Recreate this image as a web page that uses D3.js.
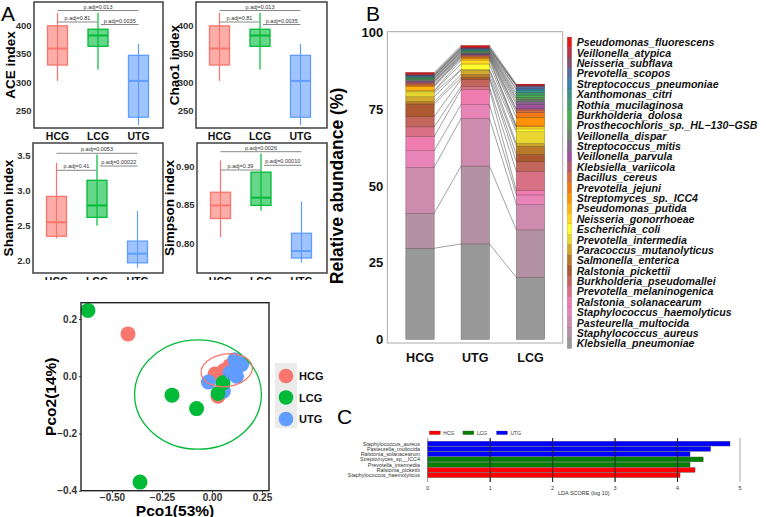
<!DOCTYPE html>
<html><head><meta charset="utf-8">
<script src="https://cdn.jsdelivr.net/npm/d3@7"></script>
<style>body{margin:0;background:#fff;} svg{font-family:"Liberation Sans",Arial,sans-serif;display:block}</style>
</head><body><svg id="c" width="766" height="517"></svg>
<script>
// ---------------- DATA ----------------
const groups = ["HCG", "LCG", "UTG"];
// box stats: [min, q1, median, q3, max]
const aceStats = { HCG: [302, 330, 359, 399, 422], LCG: [322, 363, 382, 393, 422], UTG: [224, 238, 302, 347, 367] };
const chao1Stats = { HCG: [302, 330, 359, 399, 422], LCG: [322, 363, 382, 393, 422], UTG: [224, 238, 302, 347, 367] };
const shannonStats = { HCG: [2.32, 2.35, 2.55, 2.92, 3.40], LCG: [2.50, 2.62, 2.79, 3.15, 3.52], UTG: [1.90, 1.97, 2.10, 2.28, 2.71] };
const simpsonStats = { HCG: [0.808, 0.832, 0.849, 0.866, 0.907], LCG: [0.842, 0.849, 0.859, 0.892, 0.916], UTG: [0.775, 0.781, 0.790, 0.813, 0.854] };
const aceTicks = [250, 300, 350, 400];
const shannonTicks = [2.0, 2.5, 3.0, 3.5];
const simpsonTicks = [0.80, 0.85, 0.90];
const acePairs = [["HCG", "UTG", "p.adj=0.013"], ["HCG", "LCG", "p.adj=0.81"], ["LCG", "UTG", "p.adj=0.0035"]];
const chao1Pairs = [["HCG", "UTG", "p.adj=0.013"], ["HCG", "LCG", "p.adj=0.81"], ["LCG", "UTG", "p.adj=0.0035"]];
const shannonPairs = [["HCG", "UTG", "p.adj=0.0053"], ["HCG", "LCG", "p.adj=0.41"], ["LCG", "UTG", "p.adj=0.00022"]];
const simpsonPairs = [["HCG", "UTG", "p.adj=0.0026"], ["HCG", "LCG", "p.adj=0.39"], ["LCG", "UTG", "p.adj=0.00010"]];

// PCoA points [pco1, pco2]
const pcoaHCG = [[-0.42, 0.148], [0.015, 0.008], [0.09, 0.037], [0.03, -0.07], [0.06, 0.02]];
const pcoaUTG = [[-0.018, -0.02], [0.115, 0.058], [0.148, 0.041], [0.123, 0.0], [0.057, -0.052], [0.09, 0.012]];
const pcoaLCG = [[-0.62, 0.23], [-0.20, -0.066], [-0.077, -0.113], [-0.36, -0.37], [0.03, -0.06], [0.055, -0.023]];
// ellipses: [cx, cy, rx, ry, angleDeg]
const ellipseHCG = [0.0735, 0.021, 0.129, 0.057, -8];
const ellipseLCG = [-0.07, -0.064, 0.317, 0.191, 0];
const ellipseUTG = [0.088, 0.012, 0.022, 0.022, 0];
const pcoaXTicks = [-0.50, -0.25, 0.00, 0.25];
const pcoaYTicks = [-0.4, -0.2, 0.0, 0.2];

// Stacked abundance, species bottom -> top
const species = ["Klebsiella_pneumoniae", "Staphylococcus_aureus", "Pasteurella_multocida", "Staphylococcus_haemolyticus",
  "Ralstonia_solanacearum", "Prevotella_melaninogenica", "Burkholderia_pseudomallei", "Ralstonia_pickettii",
  "Salmonella_enterica", "Paracoccus_mutanolyticus", "Prevotella_intermedia", "Escherichia_coli",
  "Neisseria_gonorrhoeae", "Pseudomonas_putida", "Streptomyces_sp._ICC4", "Prevotella_jejuni", "Bacillus_cereus",
  "Klebsiella_variicola", "Veillonella_parvula", "Streptococcus_mitis", "Veillonella_dispar",
  "Prosthecochloris_sp._HL\u2212130\u2212GSB", "Burkholderia_dolosa", "Rothia_mucilaginosa", "Xanthomonas_citri",
  "Streptococcus_pneumoniae", "Prevotella_scopos", "Neisseria_subflava", "Veillonella_atypica", "Pseudomonas_fluorescens"];
const barGroups = ["HCG", "UTG", "LCG"];
const abundHCG = [29.7, 11.4, 15.0, 5.4, 4.6, 3.2, 3.3, 4.1, 0.8, 1.6, 1.3, 0.5, 0.2, 1.3, 0.3, 0.3, 0.5, 0.4, 0.2, 0.2, 0.4, 0.2, 0.3, 0.2, 0.3, 0.2, 0.2, 0.2, 0.3, 0.4];
const abundUTG = [31.1, 25.4, 15.6, 4.5, 4.9, 0.9, 2.4, 0.6, 1.0, 1.4, 0.2, 1.8, 1.3, 0.5, 0.4, 0.2, 0.3, 0.3, 0.2, 0.3, 0.3, 0.2, 0.2, 0.2, 0.3, 0.2, 0.2, 0.2, 0.2, 0.5];
const abundLCG = [20.2, 15.5, 8.3, 3.1, 1.4, 6.2, 3.2, 2.4, 2.7, 0.9, 3.8, 0.9, 0.7, 0.3, 2.8, 1.5, 0.9, 0.5, 1.3, 0.9, 0.8, 0.6, 0.8, 0.7, 0.9, 0.5, 0.7, 0.2, 0.2, 0.3];
const abundTicks = [0, 25, 50, 75, 100];

// LDA
const ldaSpecies = ["Staphylococcus_aureus", "Pasteurella_multocida", "Ralstonia_solanacearum", "Streptomyces_sp__ICC4",
  "Prevotella_intermedia", "Ralstonia_pickettii", "Staphylococcus_haemolyticus"];
const ldaScores = [4.84, 4.53, 4.20, 4.41, 4.20, 4.28, 4.04];
const ldaGroup = ["UTG", "UTG", "UTG", "LCG", "LCG", "HCG", "HCG"];
const ldaLegend = ["HCG", "LCG", "UTG"];
const ldaTicks = [0, 1, 2, 3, 4, 5];

// ---------------- STYLE ----------------
const FONT = "'Liberation Sans', Arial, sans-serif";
const gcol = { HCG: "#F8766D", LCG: "#00BA38", UTG: "#619CFF" };
const ldaCol = { HCG: "#FF0000", LCG: "#008000", UTG: "#0000FF" };
const set1 = ["#E41A1C", "#377EB8", "#4DAF4A", "#984EA3", "#FF7F00", "#FFFF33", "#A65628", "#F781BF", "#999999"];
const ramp = d3.piecewise(d3.interpolateRgb, set1);
const N = species.length;
const spColor = i => ramp((N - 1 - i) / (N - 1));

const svg = d3.select("#c");
svg.append("rect").attr("width", 766).attr("height", 517).attr("fill", "#fff");

function txt(g, x, y, s, o = {}) {
  return g.append("text").attr("x", x).attr("y", y).text(s)
    .attr("font-family", FONT).attr("font-size", o.size || 10)
    .attr("font-weight", o.weight || "normal").attr("font-style", o.style || "normal")
    .attr("fill", o.fill || "#000").attr("text-anchor", o.anchor || "start")
    .attr("dominant-baseline", o.base || "auto");
}

// ---------------- PANEL A: box plots ----------------
function boxPanel(o) {
  const g = svg.append("g");
  const y = d3.scaleLinear().domain(o.domain).range([o.y1, o.y0]);
  const x = d3.scalePoint().domain(groups).range([o.x0 + 23.5, o.x0 + 104.5]);
  const ax = g.append("g").attr("transform", `translate(${o.x0},0)`)
    .call(d3.axisLeft(y).tickValues(o.ticks).tickFormat(o.fmt).tickSize(0).tickPadding(2.5));
  ax.select(".domain").remove();
  ax.selectAll("text").attr("font-weight", "bold").attr("font-size", 9.5).attr("fill", "#333").attr("font-family", FONT);
  const bw = 20;
  groups.forEach(k => {
    const s = o.stats[k], cx = x(k), c = gcol[k];
    g.append("line").attr("x1", cx).attr("x2", cx).attr("y1", y(s[0])).attr("y2", y(s[4])).attr("stroke", c).attr("stroke-width", 1.2);
    g.append("rect").attr("x", cx - bw / 2).attr("width", bw).attr("y", y(s[3])).attr("height", y(s[1]) - y(s[3]))
      .attr("fill", c).attr("fill-opacity", 0.6).attr("stroke", c).attr("stroke-width", 1.3);
    g.append("line").attr("x1", cx - bw / 2).attr("x2", cx + bw / 2).attr("y1", y(s[2])).attr("y2", y(s[2])).attr("stroke", c).attr("stroke-width", 2);
  });
  o.pairs.forEach((p, i) => {
    const ly = o.y0 + o.levels[i];
    let xa = x(p[0]), xb = x(p[1]);
    if (p[0] === "LCG") xa += 3;
    if (p[1] === "LCG") xb -= 0.5;
    g.append("line").attr("x1", xa).attr("x2", xb).attr("y1", ly).attr("y2", ly).attr("stroke", "#888").attr("stroke-width", 1);
    txt(g, (xa + xb) / 2, ly - 2, p[2], { size: 5.5, anchor: "middle", fill: "#333" });
  });
  g.append("rect").attr("x", o.x0).attr("y", o.y0).attr("width", o.x1 - o.x0).attr("height", o.y1 - o.y0)
    .attr("fill", "none").attr("stroke", "#333").attr("stroke-width", 1.4);
  groups.forEach(k => txt(g, x(k), o.y1 + 11.5, k, { size: 10.5, weight: "bold", anchor: "middle", fill: "#111" }));
  txt(g, 0, 0, o.title, { size: 13.5, weight: "bold", anchor: "middle" })
    .attr("transform", `translate(${o.tx},${(o.y0 + o.y1) / 2}) rotate(-90)`);
}
boxPanel({ x0: 34, x1: 163, y0: 2, y1: 128, domain: [219, 441], ticks: aceTicks, fmt: d3.format("d"), stats: aceStats, pairs: acePairs, levels: [8.5, 20, 22.5], title: "ACE index", tx: 15 });
boxPanel({ x0: 196, x1: 327, y0: 2, y1: 128, domain: [219, 441], ticks: aceTicks, fmt: d3.format("d"), stats: chao1Stats, pairs: chao1Pairs, levels: [8.5, 20, 22.5], title: "Chao1 index", tx: 179 });
boxPanel({ x0: 33, x1: 163, y0: 143, y1: 273, domain: [1.824, 3.684], ticks: shannonTicks, fmt: d3.format(".1f"), stats: shannonStats, pairs: shannonPairs, levels: [10.3, 27.3, 23], title: "Shannon index", tx: 13 });
boxPanel({ x0: 197, x1: 327, y0: 143, y1: 273, domain: [0.7616, 0.9297], ticks: simpsonTicks, fmt: d3.format(".2f"), stats: simpsonStats, pairs: simpsonPairs, levels: [8.7, 27, 22.3], title: "Simpson index", tx: 174 });
// cover under bottom row (image overlap)
svg.append("rect").attr("x", 0).attr("y", 280).attr("width", 340).attr("height", 237).attr("fill", "#fff");
txt(svg, 1, 21, "A", { size: 21 });

// ---------------- PCoA ----------------
(function () {
  const g = svg.append("g");
  const x0 = 81, x1 = 269, y0 = 302.7, y1 = 490.7;
  const x = d3.scaleLinear().domain([-0.655, 0.285]).range([x0, x1]);
  const y = d3.scaleLinear().domain([-0.4, 0.257]).range([y1, y0]);
  const ax = g.append("g").attr("transform", `translate(0,${y1})`)
    .call(d3.axisBottom(x).tickValues(pcoaXTicks).tickFormat(d3.format(".2f")).tickSize(2).tickPadding(1));
  const ay = g.append("g").attr("transform", `translate(${x0},0)`)
    .call(d3.axisLeft(y).tickValues(pcoaYTicks).tickFormat(d3.format(".1f")).tickSize(2).tickPadding(2));
  [ax, ay].forEach(a => {
    a.select(".domain").remove();
    a.selectAll("line").attr("stroke", "#333");
    a.selectAll("text").attr("font-weight", "bold").attr("font-size", 10).attr("fill", "#333").attr("font-family", FONT);
  });
  const pts = [[pcoaHCG, "HCG"], [pcoaUTG, "UTG"], [pcoaLCG, "LCG"]];
  pts.forEach(([arr, k]) => {
    g.selectAll(null).data(arr).enter().append("circle")
      .attr("cx", d => x(d[0])).attr("cy", d => y(d[1])).attr("r", 7.5).attr("fill", gcol[k]);
  });
  [[ellipseLCG, "LCG"], [ellipseHCG, "HCG"], [ellipseUTG, "UTG"]].forEach(([e, k]) => {
    const cx = x(e[0]), cy = y(e[1]);
    g.append("ellipse").attr("cx", cx).attr("cy", cy)
      .attr("rx", x(e[0] + e[2]) - cx).attr("ry", cy - y(e[1] + e[3]))
      .attr("transform", `rotate(${e[4]},${cx},${cy})`)
      .attr("fill", "none").attr("stroke", gcol[k]).attr("stroke-width", 1.3);
  });
  g.append("rect").attr("x", x0).attr("y", y0).attr("width", x1 - x0).attr("height", y1 - y0)
    .attr("fill", "none").attr("stroke", "#222").attr("stroke-width", 1.4);
  txt(g, (x0 + x1) / 2, 515.5, "Pco1(53%)", { size: 15.5, weight: "bold", anchor: "middle" });
  txt(g, 0, 0, "Pco2(14%)", { size: 15.5, weight: "bold", anchor: "middle" })
    .attr("transform", `translate(56,${(y0 + y1) / 2}) rotate(-90)`);
  // legend
  g.append("rect").attr("x", 275).attr("y", 363).attr("width", 22).attr("height", 65).attr("fill", "#EBEBEB");
  groups.forEach((k, i) => {
    g.append("circle").attr("cx", 286).attr("cy", 376 + i * 21.5).attr("r", 7.3).attr("fill", gcol[k]);
    txt(g, 299, 376 + i * 21.5, k, { size: 11, weight: "bold", base: "central", fill: "#111" });
  });
})();

// ---------------- PANEL B: stacked bars ----------------
(function () {
  const g = svg.append("g");
  const fx0 = 387.3, fx1 = 562.7, fy0 = 31.7, fy1 = 343;
  const y = d3.scaleLinear().domain([0, 100]).range([339.3, 32.7]);
  const x = d3.scalePoint().domain(barGroups).range([420, 530.5]);
  const bw = 28.3;
  const data = { HCG: abundHCG, UTG: abundUTG, LCG: abundLCG };
  const cum = {};
  barGroups.forEach(k => { cum[k] = d3.cumsum(data[k]); });
  g.append("rect").attr("x", fx0).attr("y", fy0).attr("width", fx1 - fx0).attr("height", fy1 - fy0)
    .attr("fill", "none").attr("stroke", "#aaa").attr("stroke-width", 1);
  barGroups.forEach(k => {
    data[k].forEach((v, i) => {
      const top = cum[k][i], bot = top - v;
      const c = d3.color(spColor(i));
      g.append("rect").attr("x", x(k) - bw / 2).attr("width", bw).attr("y", y(top)).attr("height", y(bot) - y(top))
        .attr("fill", c).attr("stroke", c.darker(1.2)).attr("stroke-width", 0.5);
    });
  });
  // connecting lines
  for (let i = 0; i < N; i++) {
    for (let j = 0; j < barGroups.length - 1; j++) {
      const a = barGroups[j], b = barGroups[j + 1];
      g.append("line").attr("x1", x(a) + bw / 2).attr("x2", x(b) - bw / 2)
        .attr("y1", y(cum[a][i])).attr("y2", y(cum[b][i])).attr("stroke", "#444").attr("stroke-width", 0.5);
    }
  }
  const ay = g.append("g").attr("transform", `translate(${fx0},0)`)
    .call(d3.axisLeft(y).tickValues(abundTicks).tickSize(0).tickPadding(4));
  ay.select(".domain").remove();
  ay.selectAll("text").attr("font-weight", "bold").attr("font-size", 13).attr("fill", "#111").attr("font-family", FONT);
  barGroups.forEach(k => txt(g, x(k), 362, k, { size: 12.5, weight: "bold", anchor: "middle", fill: "#111" }));
  txt(g, 0, 0, "Relative abundance (%)", { size: 17.5, weight: "bold", anchor: "middle" })
    .attr("transform", `translate(343,${(32.7 + 339.3) / 2}) rotate(-90)`);
  // legend (top = last species)
  const step = 10.38;
  for (let r = 0; r < N; r++) {
    const i = N - 1 - r;
    const cy = 42.3 + r * step;
    g.append("rect").attr("x", 567.3).attr("y", cy - step / 2).attr("width", 4.3).attr("height", step)
      .attr("fill", spColor(i)).attr("stroke", d3.color(spColor(i)).darker(0.8)).attr("stroke-width", 0.3);
    txt(g, 576.7, cy, species[i], { size: 10.6, weight: "bold", style: "italic", base: "central", fill: "#111" });
  }
  txt(g, 366, 21, "B", { size: 21 });
})();

// ---------------- PANEL C: LDA ----------------
(function () {
  const g = svg.append("g");
  const x = d3.scaleLinear().domain([0, 5]).range([427.7, 740]);
  const y = d3.scaleBand().domain(ldaSpecies).range([441.2, 477.6]).paddingInner(0.08);
  ldaTicks.forEach(t => {
    g.append("line").attr("x1", x(t)).attr("x2", x(t)).attr("y1", 438).attr("y2", 482)
      .attr("stroke", t === 5 ? "#bbb" : (t === 0 ? "#777" : "#222")).attr("stroke-width", t === 5 ? 1.3 : 0.8);
    txt(g, x(t), 487.5, String(t), { size: 5.5, anchor: "middle", base: "central", fill: "#333" });
  });
  ldaSpecies.forEach((s, i) => {
    g.append("rect").attr("x", x(0)).attr("y", y(s)).attr("width", x(ldaScores[i]) - x(0)).attr("height", y.bandwidth())
      .attr("fill", ldaCol[ldaGroup[i]]).attr("stroke", "#555").attr("stroke-width", 0.4);
    txt(g, 420, y(s) + y.bandwidth() / 2, s, { size: 5.4, anchor: "end", base: "central", fill: "#333" });
  });
  [1, 2, 3, 4].forEach(t => g.append("line").attr("x1", x(t)).attr("x2", x(t)).attr("y1", 438).attr("y2", 482)
    .attr("stroke", "#222").attr("stroke-width", 0.8));
  ldaLegend.forEach((k, i) => {
    const lx = 429.3 + i * 33.6;
    g.append("rect").attr("x", lx).attr("y", 431).attr("width", 11).attr("height", 3.6).attr("fill", ldaCol[k]).attr("stroke", "#555").attr("stroke-width", 0.3);
    txt(g, lx + 14, 433, k, { size: 5, base: "central", fill: "#333" });
  });
  txt(g, x(2.5), 492.5, "LDA SCORE (log 10)", { size: 5.5, anchor: "middle", base: "central", fill: "#333" });
  txt(g, 337, 424, "C", { size: 21 });
})();
</script></body></html>
